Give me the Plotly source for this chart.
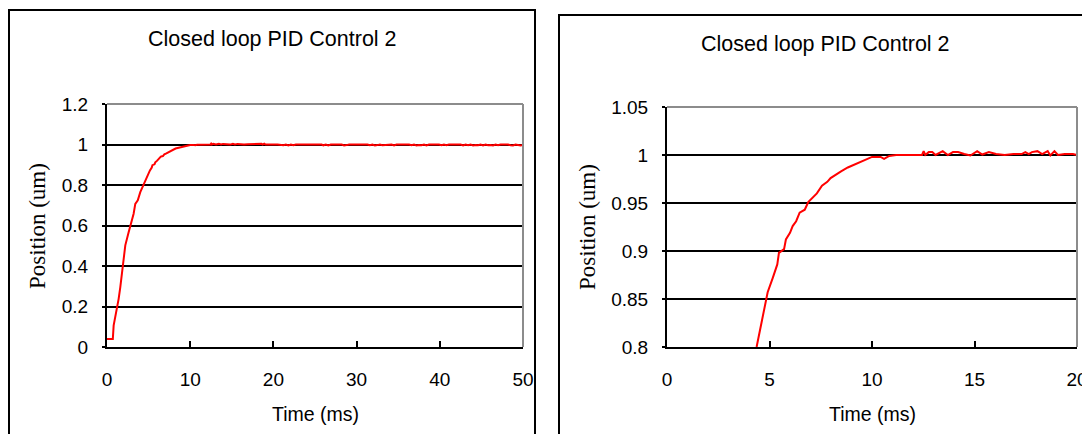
import plotly.graph_objects as go

# ---- data ----
time_ms = [0, 0.7, 0.8, 1.0, 1.2, 1.4, 1.6, 1.8, 2.0, 2.2, 2.6, 2.9, 3.2, 3.4, 3.7, 4.0,
           4.37, 4.57, 4.71, 4.91, 5.16, 5.38, 5.46, 5.71, 5.80, 6.0, 6.13, 6.30, 6.47,
           6.72, 6.89, 7.14, 7.31, 7.56, 7.82, 7.98, 8.24, 8.49, 8.82, 9.16, 9.50, 10.0,
           10.42, 10.59, 10.84, 11.18,
           12.44, 12.52, 12.6, 12.77, 12.94, 13.1, 13.45, 13.7, 13.95, 14.2, 14.5, 14.8,
           15.13, 15.38, 15.7, 16.05, 16.47, 16.9, 17.3, 17.48, 17.65, 17.8, 18.07, 18.3,
           18.57, 18.7, 18.9, 19.07, 19.4, 19.8, 20.0,
           20.5, 21.2, 21.5, 21.8, 22.1, 22.4, 22.7, 23.5,
           25.8, 26.0, 26.3, 26.6, 26.9,
           28.2, 28.5, 28.8, 29.1,
           31.3, 31.6, 31.9, 32.2, 32.5, 32.8, 33.1,
           34.2, 34.5, 34.8, 35.1,
           36.3, 36.6, 36.9, 37.2, 37.5, 37.8, 38.1, 38.4, 38.7, 39.0,
           39.9, 40.2, 40.5, 40.8, 41.1,
           42.5, 42.8, 43.1, 43.4, 43.7, 44.0, 44.3, 44.6, 44.9, 45.2, 45.5, 45.8, 46.1,
           46.4, 46.7, 47.0, 47.3,
           48.2, 48.5, 48.8, 49.1, 49.4, 49.7, 50.0]
position_um = [0.04, 0.04, 0.107, 0.148, 0.206, 0.238, 0.296, 0.370, 0.444, 0.502, 0.567,
               0.617, 0.658, 0.707, 0.724, 0.765,
               0.800, 0.820, 0.8375, 0.857, 0.872, 0.886, 0.898, 0.902, 0.912, 0.919, 0.926,
               0.931, 0.940, 0.943, 0.951, 0.956, 0.960, 0.968, 0.972, 0.976, 0.980, 0.983,
               0.987, 0.990, 0.993, 0.998, 0.998, 0.996, 0.999, 1.000,
               1.000, 1.004, 1.000, 1.003, 1.003, 1.000, 1.004, 1.000, 1.003, 1.003, 1.001,
               0.9995, 1.004, 1.0005, 1.003, 1.001, 1.000, 1.001, 1.001, 1.003, 1.001, 1.003,
               1.004, 1.001, 1.004, 0.9995, 1.004, 1.000, 1.001, 1.001, 1.000,
               1.000, 0.996, 1.000, 0.995, 1.000, 0.996, 1.000, 1.000,
               1.000, 0.996, 1.000, 0.995, 1.000,
               1.000, 0.995, 0.997, 1.000,
               1.000, 0.996, 1.000, 0.995, 0.997, 1.000, 0.996,
               1.000, 0.995, 1.000, 1.000,
               1.000, 0.996, 1.000, 0.995, 0.998, 0.996, 1.000, 0.995, 1.000, 1.000,
               1.000, 0.996, 1.000, 0.996, 1.000,
               1.000, 0.995, 1.000, 0.996, 1.000, 0.995, 0.998, 0.996, 1.000, 0.995, 1.000,
               0.996, 0.998, 0.995, 1.000, 0.996, 1.000,
               1.000, 0.996, 0.995, 1.000, 0.996, 0.995, 0.998]

chart_title = "Closed loop PID Control 2"
x_label = "Time (ms)"
y_label = "Position (um)"
left_x_ticks = [0, 10, 20, 30, 40, 50]
left_y_ticks = [0, 0.2, 0.4, 0.6, 0.8, 1.0, 1.2]
right_x_ticks = [0, 5, 10, 15, 20]
right_y_ticks = [0.8, 0.85, 0.9, 0.95, 1.0, 1.05]
right_y_ticktext = ["0.8", "0.85", "0.9", "0.95", "1", "1.05"]

W, H = 1082, 434
def px(x):
    return x / W
def py(y):
    return 1 - y / H

SANS = "Arial, Liberation Sans, sans-serif"
SERIF = "Times New Roman, Liberation Serif, serif"

fig = go.Figure()
line_style = dict(color="#ff0000", width=2)
fig.add_trace(go.Scatter(x=time_ms, y=position_um, mode="lines", line=line_style,
                         xaxis="x", yaxis="y", showlegend=False, hoverinfo="x+y"))
fig.add_trace(go.Scatter(x=time_ms, y=position_um, mode="lines", line=line_style,
                         xaxis="x2", yaxis="y2", showlegend=False, hoverinfo="x+y"))

tickfont = dict(family=SANS, size=19, color="black")
xcommon = dict(showline=True, linecolor="black", linewidth=2, ticks="inside", ticklen=6,
               tickwidth=1.5, tickcolor="black", showgrid=False, zeroline=False,
               tickfont=tickfont, ticklabelstandoff=14, fixedrange=True, automargin=False,
               ticklabeloverflow="allow")
ycommon = dict(showline=True, linecolor="black", linewidth=2, ticks="outside", ticklen=3,
               tickwidth=1.5, tickcolor="black", showgrid=True, gridcolor="black",
               gridwidth=1.5, zeroline=False, tickfont=tickfont, ticklabelstandoff=10,
               fixedrange=True, automargin=False, ticklabeloverflow="allow")

fig.update_layout(
    width=W, height=H,
    margin=dict(l=0, r=0, t=0, b=0, pad=0, autoexpand=False),
    paper_bgcolor="white", plot_bgcolor="white",
    xaxis=dict(xcommon, domain=[px(107), px(523)], range=[0, 50], tickvals=left_x_ticks,
               anchor="y"),
    yaxis=dict(ycommon, domain=[py(347), py(104)], range=[0, 1.2], tickvals=left_y_ticks,
               anchor="x"),
    xaxis2=dict(xcommon, domain=[px(667), px(1077)], range=[0, 20], tickvals=right_x_ticks,
                anchor="y2"),
    yaxis2=dict(ycommon, domain=[py(347), py(107)], range=[0.8, 1.05],
                tickvals=right_y_ticks, ticktext=right_y_ticktext, anchor="x2"),
)

shapes = []
# outer chart frames
shapes.append(dict(type="rect", xref="paper", yref="paper", x0=px(9), x1=px(535),
                   y0=-0.2, y1=py(10), line=dict(color="black", width=2), layer="below"))
shapes.append(dict(type="rect", xref="paper", yref="paper", x0=px(559), x1=1.2,
                   y0=-0.2, y1=py(15), line=dict(color="black", width=2), layer="below"))
# grey top/right borders of plot areas
for xr, yr in (("x domain", "y domain"), ("x2 domain", "y2 domain")):
    shapes.append(dict(type="line", xref=xr, yref=yr, x0=0, x1=1, y0=1, y1=1,
                       line=dict(color="#8c8c8c", width=2)))
    shapes.append(dict(type="line", xref=xr, yref=yr, x0=1, x1=1, y0=0, y1=1,
                       line=dict(color="#8c8c8c", width=2)))
fig.update_layout(shapes=shapes)

def label(text, x, y, family, size, angle=0):
    return dict(text=text, x=px(x), y=py(y), xref="paper", yref="paper",
                xanchor="center", yanchor="middle", showarrow=False, textangle=angle,
                font=dict(family=family, size=size, color="black"))

ann = [
    label(chart_title, 272, 39, SANS, 21.5),
    label(chart_title, 825, 44, SANS, 21.5),
    label(x_label, 315, 414, SANS, 19.5),
    label(x_label, 872, 414, SANS, 19.5),
    label(y_label, 38, 226, SERIF, 23, -90),
    label(y_label, 587, 227, SERIF, 23, -90),
]
fig.update_layout(annotations=ann)

fig.write_html("out.html")
